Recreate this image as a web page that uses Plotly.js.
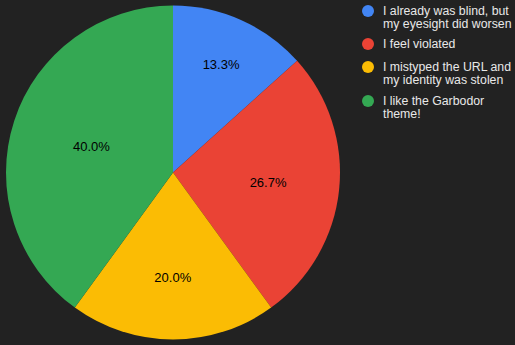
<!DOCTYPE html>
<html><head><meta charset="utf-8">
<script src="https://cdn.plot.ly/plotly-3.0.1.min.js"></script>
<style>html,body{margin:0;padding:0;background:#222222;}</style>
</head><body>
<div id="chart" style="width:515px;height:345px;"></div>
<script>
const labels = ["I already was blind, but my eyesight did worsen", "I feel violated", "I mistyped the URL and my identity was stolen", "I like the Garbodor theme!"];
const legendLines = [["I already was blind, but", "my eyesight did worsen"], ["I feel violated"], ["I mistyped the URL and", "my identity was stolen"], ["I like the Garbodor", "theme!"]];
const values = [2, 4, 3, 6];
const colors = ["#4285f4", "#ea4335", "#fbbc04", "#34a853"];

const W = 515, H = 345;
const legendTop = [11, 44, 67, 101];
const lineGap = 13;

const annotations = [];
const shapes = [];
legendLines.forEach((lines, i) => {
  const cy = legendTop[i];
  shapes.push({type: "circle", xref: "paper", yref: "paper",
    x0: 362/W, x1: 374/W, y0: 1 - (cy + 6)/H, y1: 1 - (cy - 6)/H,
    fillcolor: colors[i], line: {width: 0}});
  lines.forEach((t, j) => {
    annotations.push({xref: "paper", yref: "paper", x: 381/W, y: 1 - (cy + j*lineGap)/H,
      xanchor: "left", yanchor: "middle", showarrow: false, text: t,
      font: {family: "Liberation Sans, Arial, sans-serif", size: 12.3, color: "#e8e8e8"}});
  });
});

const traces = [{
  type: "pie",
  labels: labels,
  values: values,
  sort: false,
  direction: "clockwise",
  rotation: 0,
  marker: {colors: colors, line: {width: 0}},
  texttemplate: "%{percent:.1%}",
  textposition: "inside",
  insidetextorientation: "horizontal",
  textfont: {family: "Liberation Sans, Arial, sans-serif", size: 13, color: "#000000"},
  hoverinfo: "label+percent",
  showlegend: false,
  domain: {x: [6/W, 340/W], y: [5/H, 340/H]}
}];

Plotly.newPlot("chart", traces, {
  width: W, height: H,
  margin: {l: 0, r: 0, t: 0, b: 0, autoexpand: false},
  paper_bgcolor: "#222222", plot_bgcolor: "#222222",
  showlegend: false,
  annotations: annotations,
  shapes: shapes
}, {displayModeBar: false});
</script>
</body></html>
